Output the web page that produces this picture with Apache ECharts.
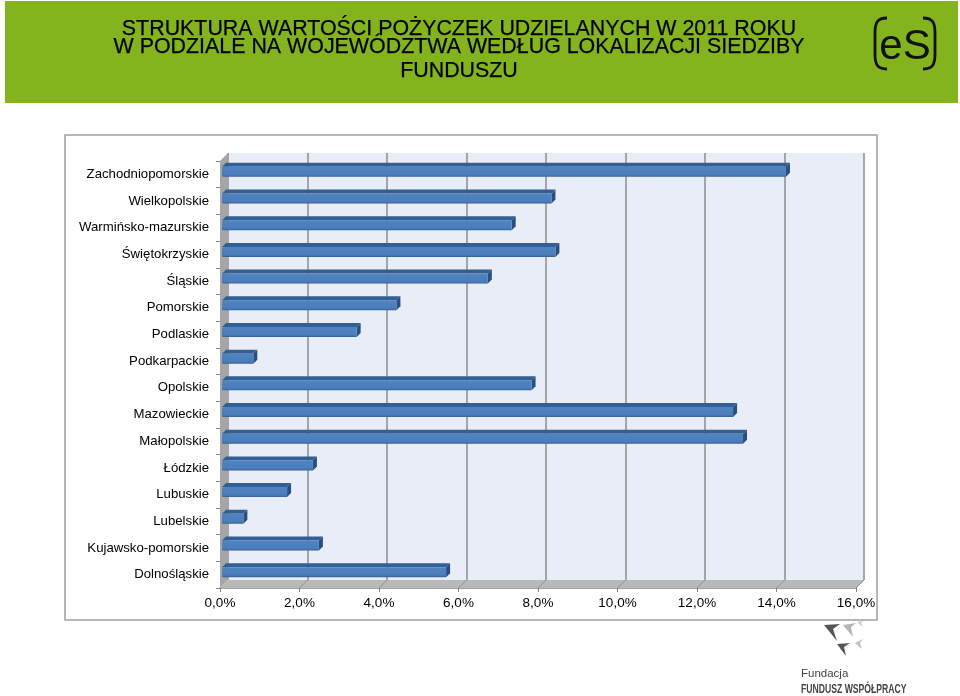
<!DOCTYPE html>
<html><head><meta charset="utf-8">
<style>html,body{margin:0;padding:0;background:#fff}#c{width:960px;height:696px}</style>
<script src="https://cdn.jsdelivr.net/npm/echarts@6/dist/echarts.min.js"></script>
</head><body><div id="c"></div>
<script>
const categories = ['Dolnośląskie','Kujawsko-pomorskie','Lubelskie','Lubuskie','Łódzkie','Małopolskie','Mazowieckie','Opolskie','Podkarpackie','Podlaskie','Pomorskie','Śląskie','Świętokrzyskie','Warmińsko-mazurskie','Wielkopolskie','Zachodniopomorskie'];
const values = [5.65,2.45,0.55,1.65,2.3,13.12,12.87,7.8,0.8,3.4,4.4,6.7,8.4,7.3,8.3,14.2];
const titleLines = ['STRUKTURA WARTOŚCI POŻYCZEK UDZIELANYCH W 2011 ROKU','W PODZIALE NA WOJEWÓDZTWA WEDŁUG LOKALIZACJI SIEDZIBY','FUNDUSZU'];
const FONT = '"Liberation Sans", Arial, sans-serif';
const chart = echarts.init(document.getElementById('c'), null, {renderer:'canvas'});

function bar3d(params, api){
  const i = api.value(1), v = api.value(0);
  const c0 = api.coord([0,i]), c1 = api.coord([v,i]);
  const xa = c0[0]+2, xb = c1[0]+1.5, yt = c0[1]-7.5, yb = c0[1]+2.5, d = 4;
  return {type:'group', children:[
    {type:'polygon', shape:{points:[[xa,yt],[xa+d,yt-d],[xb+d,yt-d],[xb,yt]]}, style:{fill:'#335f93'}},
    {type:'polygon', shape:{points:[[xb,yt],[xb+d,yt-d],[xb+d,yb-d],[xb,yb]]}, style:{fill:'#274f80'}},
    {type:'rect', shape:{x:xa,y:yt,width:xb-xa,height:yb-yt,r:[1.5,0,0,1.5]},
      style:{fill:new echarts.graphic.LinearGradient(0,0,0,1,[{offset:0,color:'#4f83c2'},{offset:.8,color:'#4b7dba'},{offset:1,color:'#345f96'}])}}
  ]};
}
function walls(params, api){
  const o = api.coord([0,0]), e = api.coord([16,0]);
  const s = api.size([0,1])[1], bottom = o[1]+s/2, top = bottom-s*categories.length, d = 8;
  const kids = [
    {type:'polygon', shape:{points:[[o[0],bottom],[o[0]+d,bottom-d],[o[0]+d,top-d],[o[0],top]]}, style:{fill:'#a6a6a6'}},
    {type:'polygon', shape:{points:[[o[0],bottom],[e[0],bottom],[e[0]+d,bottom-d],[o[0]+d,bottom-d]]}, style:{fill:'#b9b9bc'}}
  ];
  for(let t=2;t<=16;t+=2){
    const x = api.coord([t,0])[0];
    kids.push({type:'line', shape:{x1:x,y1:bottom,x2:x+d,y2:bottom-d}, style:{stroke:'#8f8f8f',lineWidth:1}});
  }
  return {type:'group', children:kids};
}
function bracket(side){
  const e = side<0 ? 875 : 935, t = side<0 ? 887 : 923, c = side<0 ? 877 : 933;
  const base = {type:'bezierCurve',z:5,silent:true};
  const st = {fill:'none',stroke:'#111',lineWidth:2.8};
  return [
    {...base,shape:{x1:t,y1:18,cpx1:c,cpy1:18,cpx2:e,cpy2:23,x2:e,y2:33},style:st},
    {type:'line',z:5,silent:true,shape:{x1:e,y1:33,x2:e,y2:54},style:{stroke:'#111',lineWidth:2.8}},
    {...base,shape:{x1:e,y1:54,cpx1:e,cpy1:64,cpx2:c,cpy2:69,x2:t,y2:69},style:st}
  ];
}
const black = '#000';
chart.setOption({
  animation:false,
  backgroundColor:'#fff',
  grid:[
    {left:228,top:153,width:636,height:427,show:true,backgroundColor:'#e8edf7',borderWidth:0},
    {left:220,top:161,width:636,height:427,show:false}
  ],
  xAxis:[
    {gridIndex:0,type:'value',min:0,max:16,interval:2,axisLine:{show:false},axisTick:{show:false},axisLabel:{show:false},
      splitLine:{show:true,lineStyle:{color:'#8c8c8c',width:1.5}}},
    {gridIndex:1,type:'value',min:0,max:16,interval:2,
      axisLine:{show:true,onZero:false,lineStyle:{color:'#858585',width:1.5}},
      axisTick:{show:true,length:4,lineStyle:{color:'#858585'}},
      splitLine:{show:false},
      axisLabel:{color:black,fontFamily:FONT,fontSize:13.5,margin:8,showMinLabel:true,showMaxLabel:true,formatter:v=>v.toFixed(1).replace('.',',')+'%'}}
  ],
  yAxis:[
    {gridIndex:0,type:'category',data:categories,show:false},
    {gridIndex:1,type:'category',data:categories,
      axisLine:{show:false},
      axisTick:{show:true,length:4,lineStyle:{color:'#858585'}},
      axisLabel:{color:black,fontFamily:FONT,fontSize:13.2,margin:11,interval:0}}
  ],
  series:[
    {type:'custom',xAxisIndex:1,yAxisIndex:1,z:2,silent:true,clip:false,renderItem:walls,data:[[0,0]],encode:{x:0,y:1}},
    {type:'custom',name:'Struktura',xAxisIndex:1,yAxisIndex:1,z:3,clip:false,renderItem:bar3d,
      data:values.map((v,i)=>[v,i]),encode:{x:0,y:1}}
  ],
  graphic:[
    {type:'rect',z:-1,silent:true,shape:{x:5,y:1,width:953,height:102},style:{fill:'#83b41d'}},
    {type:'rect',z:-1,silent:true,shape:{x:65,y:135,width:812,height:485},style:{fill:'#fff',stroke:'#a0a0a0',lineWidth:1.5}},
    ...titleLines.map((t,i)=>({type:'text',z:5,silent:true,style:{text:t,x:459,y:[29,47,71][i],align:'center',verticalAlign:'middle',
      font:'21.4px '+FONT,fill:'#000',stroke:'#000',lineWidth:.25}})),
    {type:'text',z:5,silent:true,style:{text:'eS',x:905,y:47,align:'center',verticalAlign:'middle',font:'42px '+FONT,fill:'#111'}},
    ...bracket(-1),
    ...bracket(1),
    {type:'polygon',z:5,silent:true,shape:{points:[[824,625],[840,624],[833,629],[837,641]]},style:{fill:'#555'}},
    {type:'polygon',z:5,silent:true,shape:{points:[[837,644],[850,643],[844,647],[846,656]]},style:{fill:'#555'}},
    {type:'polygon',z:5,silent:true,shape:{points:[[843,625],[856,623],[851,627],[853,637]]},style:{fill:'#b5b5b5'}},
    {type:'polygon',z:5,silent:true,shape:{points:[[855,643],[863,639],[860,643],[862,649]]},style:{fill:'#c0c0c0'}},
    {type:'polygon',z:5,silent:true,shape:{points:[[857,622],[863,621],[861,623],[863,627]]},style:{fill:'#c8c8c8'}},
    {type:'text',z:5,silent:true,style:{text:'Fundacja',x:801,y:674,verticalAlign:'middle',font:'11.5px '+FONT,fill:'#444'}},
    {type:'text',z:5,silent:true,x:801,y:689,scaleX:.64,style:{text:'FUNDUSZ WSPÓŁPRACY',x:0,y:0,verticalAlign:'middle',font:'bold 13.5px '+FONT,fill:'#444'}}
  ]
});
</script></body></html>
